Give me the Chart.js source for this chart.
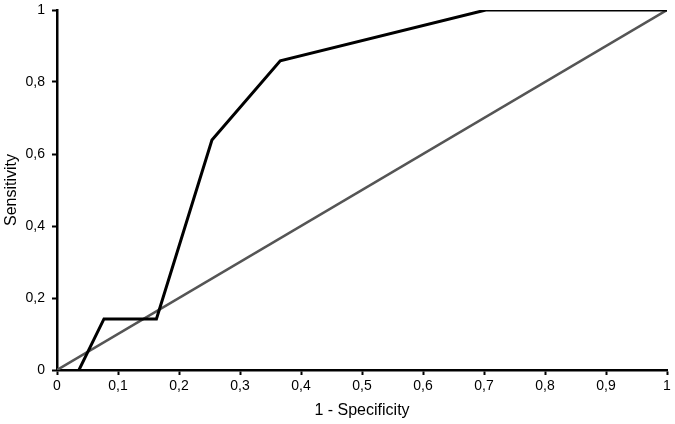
<!DOCTYPE html>
<html>
<head>
<meta charset="utf-8">
<script src="https://cdn.jsdelivr.net/npm/chart.js@4.4.0/dist/chart.umd.min.js"></script>
<style>
  html, body { margin: 0; padding: 0; background: #fff; }
  #wrap { width: 675px; height: 424px; }
</style>
</head>
<body>
<div id="wrap"><canvas id="roc"></canvas></div>
<script>
// ROC curve points (1 - specificity, sensitivity)
const fpr = [0.036, 0.077, 0.163, 0.254, 0.366, 0.703, 1];
const tpr = [0, 0.142, 0.142, 0.639, 0.859, 1, 1];
// reference diagonal
const diagX = [0, 1];
const diagY = [0, 1];

const xTicks = [0, 0.1, 0.2, 0.3, 0.4, 0.5, 0.6, 0.7, 0.8, 0.9, 1];
const yTicks = [0, 0.2, 0.4, 0.6, 0.8, 1];

function fmt(v) {
    return String(Math.round(v * 10) / 10).replace('.', ',');
}

const ctx = document.getElementById('roc').getContext('2d');
const font = 'Liberation Sans, Arial, sans-serif';

new Chart(ctx, {
    type: 'scatter',
    data: {
        datasets: [
            {
                label: 'Diagonal',
                data: diagX.map((x, i) => ({ x: x, y: diagY[i] })),
                showLine: true,
                borderColor: '#555555',
                borderWidth: 2.5,
                pointRadius: 0,
                order: 2
            },
            {
                label: 'ROC',
                data: fpr.map((x, i) => ({ x: x, y: tpr[i] })),
                showLine: true,
                borderColor: '#000000',
                borderWidth: 3,
                pointRadius: 0,
                order: 1
            }
        ]
    },
    options: {
        responsive: true,
        maintainAspectRatio: false,
        animation: false,
        layout: { padding: { top: 10, right: 8, left: 0, bottom: 0 } },
        plugins: {
            legend: { display: false },
            tooltip: { enabled: false }
        },
        scales: {
            x: {
                type: 'linear',
                min: 0,
                max: 1,
                afterBuildTicks: axis => { axis.ticks = xTicks.map(v => ({ value: v })); },
                afterFit: axis => { axis.height = 54; axis.paddingLeft = 0; axis.paddingRight = 0; },
                border: { color: '#000', width: 2.5 },
                grid: { drawOnChartArea: false, drawTicks: true, tickLength: 5, tickColor: '#000', tickWidth: 2 },
                ticks: {
                    color: '#000',
                    padding: 3,
                    maxRotation: 0,
                    font: { family: font, size: 14 },
                    callback: v => fmt(v)
                },
                title: {
                    display: true,
                    text: '1 - Specificity',
                    color: '#000',
                    font: { family: font, size: 16 },
                    padding: { top: 0, bottom: 4 }
                }
            },
            y: {
                type: 'linear',
                min: 0,
                max: 1,
                afterBuildTicks: axis => { axis.ticks = yTicks.map(v => ({ value: v })); },
                afterFit: axis => { axis.width = 57; axis.paddingTop = 0; axis.paddingBottom = 0; },
                border: { color: '#000', width: 2.5 },
                grid: { drawOnChartArea: false, drawTicks: true, tickLength: 5, tickColor: '#000', tickWidth: 2 },
                ticks: {
                    color: '#000',
                    padding: 7,
                    font: { family: font, size: 14 },
                    callback: v => fmt(v)
                },
                title: {
                    display: true,
                    text: 'Sensitivity',
                    color: '#000',
                    font: { family: font, size: 16 },
                    padding: { top: 2, bottom: 0 }
                }
            }
        }
    }
});
</script>
</body>
</html>
